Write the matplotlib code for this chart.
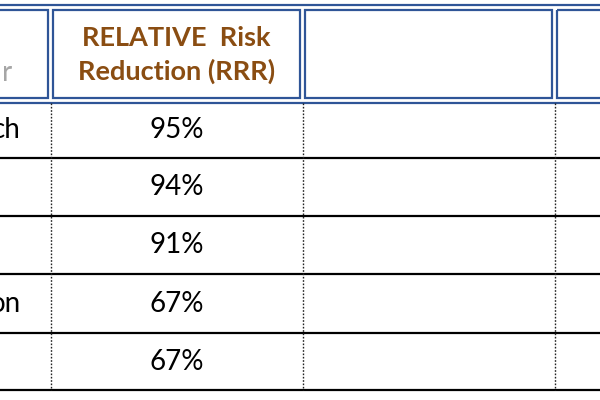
import matplotlib.pyplot as plt
from matplotlib.patches import Rectangle

# table content (cropped view of a wider table)
header_left = "r"
header_rrr = "RELATIVE  Risk\nReduction (RRR)"
row_left = ["ch", "", "", "on", ""]
rrr_values = ["95%", "94%", "91%", "67%", "67%"]

# layout in pixel space
col_edges = [50.5, 302.5, 554.5]
row_edges = [103, 158, 216, 274, 333, 390]
blue = "#2f5597"
brown = "#8a4d12"

fig = plt.figure(figsize=(6, 4), dpi=100)
ax = fig.add_axes([0, 0, 1, 1])
ax.set_xlim(0, 600)
ax.set_ylim(400, 0)
ax.axis("off")

font = "Lato"

# header double borders
ax.plot([0, 600], [5, 5], color=blue, lw=1.6)
ax.plot([0, 600], [103, 103], color=blue, lw=1.6)
cells = [-10] + col_edges + [610]
for a, b in zip(cells[:-1], cells[1:]):
    ax.add_patch(Rectangle((a + 2.5, 10), (b - a) - 5, 88, fill=False,
                           edgecolor=blue, lw=1.6))

ax.text(12, 73, header_left, ha="right", va="center", fontsize=20,
        color="#a6a6a6", family=font)
ax.text((col_edges[0] + col_edges[1]) / 2, 55, header_rrr, ha="center",
        va="center", fontsize=19.5, fontweight="bold", color=brown,
        family=font, linespacing=1.45)

# body rows
for y in row_edges[1:]:
    ax.plot([0, 600], [y, y], color="black", lw=1.6)
for x in col_edges:
    ax.plot([x, x], [row_edges[0], row_edges[-1]], color="#222222", lw=1.0,
            linestyle=(0, (1.2, 1.2)))

for i, (lab, val) in enumerate(zip(row_left, rrr_values)):
    yc = (row_edges[i] + row_edges[i + 1]) / 2
    ax.text(21, yc, lab, ha="right", va="center", fontsize=20, family=font)
    ax.text((col_edges[0] + col_edges[1]) / 2, yc, val, ha="center",
            va="center", fontsize=20, family=font)

fig.savefig("out.png", dpi=100)
